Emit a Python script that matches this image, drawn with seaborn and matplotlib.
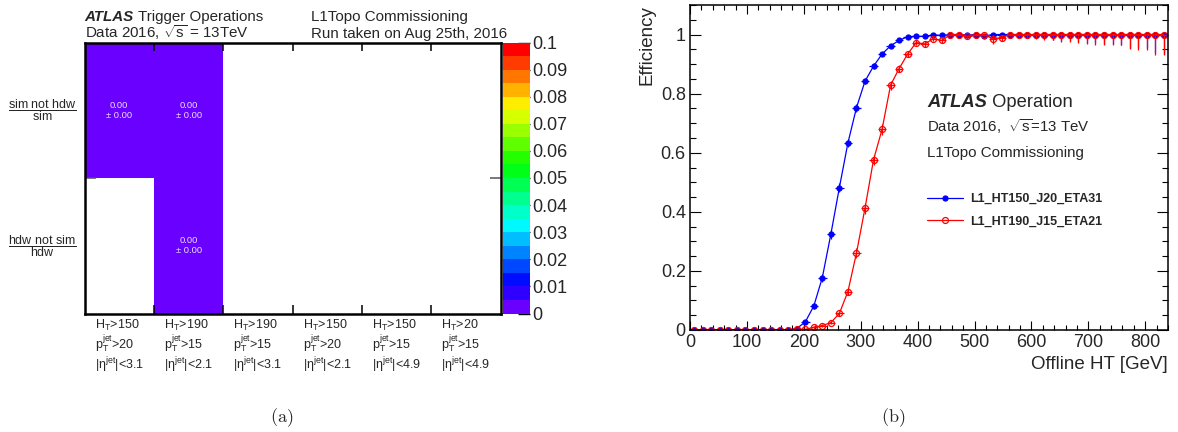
import numpy as np
import pandas as pd
import matplotlib
matplotlib.use("Agg")
import matplotlib.pyplot as plt
import seaborn as sns
from matplotlib.colors import ListedColormap, hsv_to_rgb
from matplotlib.ticker import MultipleLocator, FuncFormatter

# ---------------- data: panel (a) ----------------
row_labels = [r"$\dfrac{\mathrm{sim\ not\ hdw}}{\mathrm{sim}}$",
              r"$\dfrac{\mathrm{hdw\ not\ sim}}{\mathrm{hdw}}$"]
col_labels = [
    "H$_\\mathregular{T}$>150\np$_\\mathregular{T}^\\mathregular{jet}$>20\n|η$^\\mathregular{jet}$|<3.1",
    "H$_\\mathregular{T}$>190\np$_\\mathregular{T}^\\mathregular{jet}$>15\n|η$^\\mathregular{jet}$|<2.1",
    "H$_\\mathregular{T}$>190\np$_\\mathregular{T}^\\mathregular{jet}$>15\n|η$^\\mathregular{jet}$|<3.1",
    "H$_\\mathregular{T}$>150\np$_\\mathregular{T}^\\mathregular{jet}$>20\n|η$^\\mathregular{jet}$|<2.1",
    "H$_\\mathregular{T}$>150\np$_\\mathregular{T}^\\mathregular{jet}$>15\n|η$^\\mathregular{jet}$|<4.9",
    "H$_\\mathregular{T}$>20\np$_\\mathregular{T}^\\mathregular{jet}$>15\n|η$^\\mathregular{jet}$|<4.9",
]
nan = np.nan
frac_sim_not_hdw = [0.00, 0.00, nan, nan, nan, nan]
frac_hdw_not_sim = [nan, 0.00, nan, nan, nan, nan]
err_sim_not_hdw = [0.00, 0.00, nan, nan, nan, nan]
err_hdw_not_sim = [nan, 0.00, nan, nan, nan, nan]
cbar_ticks = [0, 0.01, 0.02, 0.03, 0.04, 0.05, 0.06, 0.07, 0.08, 0.09, 0.1]
cbar_ticklabels = ["0", "0.01", "0.02", "0.03", "0.04", "0.05", "0.06",
                   "0.07", "0.08", "0.09", "0.1"]

# ---------------- data: panel (b) ----------------
ht_bins = [7.5, 22.5, 37.5, 52.5, 67.5, 82.5, 97.5, 112.5, 127.5, 142.5,
           157.5, 172.5, 187.5, 202.5, 217.5, 232.5, 247.5, 262.5, 277.5, 292.5,
           307.5, 322.5, 337.5, 352.5, 367.5, 382.5, 397.5, 412.5, 427.5, 442.5,
           457.5, 472.5, 487.5, 502.5, 517.5, 532.5, 547.5, 562.5, 577.5, 592.5,
           607.5, 622.5, 637.5, 652.5, 667.5, 682.5, 697.5, 712.5, 727.5, 742.5,
           757.5, 772.5, 787.5, 802.5, 817.5, 832.5]
bin_half_width = 7.5
eff_ht150 = [0, 0, 0, 0, 0, 0, 0, 0, 0, 0,
             0, 0, 0.005, 0.027, 0.081, 0.177, 0.324, 0.482, 0.633, 0.752,
             0.842, 0.893, 0.934, 0.962, 0.980, 0.993, 0.994, 0.994, 0.999, 0.997,
             1.0, 1.0, 0.998, 1.0, 0.995, 1.0, 1.0, 1.0, 1.0, 1.0,
             1.0, 1.0, 1.0, 1.0, 1.0, 1.0, 1.0, 1.0, 1.0, 1.0,
             1.0, 1.0, 1.0, 1.0, 1.0, 1.0]
err_ht150 = [0, 0, 0, 0, 0, 0, 0, 0, 0, 0,
             0, 0.001, 0.003, 0.006, 0.010, 0.013, 0.015, 0.016, 0.015, 0.013,
             0.011, 0.010, 0.008, 0.007, 0.006, 0.004, 0.004, 0.004, 0.003, 0.004,
             0.003, 0.003, 0.004, 0.003, 0.005, 0.004, 0.004, 0.005, 0.007, 0.010,
             0.012, 0.015, 0.018, 0.021, 0.023, 0.025, 0.028, 0.030, 0.031, 0.033,
             0.034, 0.044, 0.046, 0.046, 0.062, 0.066]
eff_ht190 = [0, 0, 0, 0, 0, 0, 0, 0, 0, 0,
             0, 0.001, 0.003, 0.002, 0.009, 0.015, 0.025, 0.056, 0.130, 0.260,
             0.412, 0.576, 0.679, 0.829, 0.885, 0.934, 0.973, 0.968, 0.986, 0.980,
             1.0, 1.0, 0.994, 1.0, 1.0, 0.985, 0.990, 1.0, 1.0, 1.0,
             1.0, 1.0, 1.0, 1.0, 1.0, 1.0, 1.0, 1.0, 1.0, 1.0,
             1.0, 1.0, 1.0, 1.0, 1.0, 1.0]
err_ht190 = [0, 0, 0, 0, 0, 0, 0, 0, 0, 0,
             0, 0.001, 0.002, 0.002, 0.004, 0.005, 0.006, 0.008, 0.012, 0.016,
             0.018, 0.018, 0.018, 0.015, 0.013, 0.011, 0.009, 0.010, 0.008, 0.009,
             0.004, 0.004, 0.008, 0.004, 0.005, 0.017, 0.012, 0.006, 0.008, 0.011,
             0.014, 0.017, 0.020, 0.024, 0.026, 0.028, 0.031, 0.034, 0.034, 0.037,
             0.037, 0.049, 0.051, 0.051, 0.068, 0.068]

# ---------------- style ----------------
sns.set_theme(style="ticks")
plt.rcParams["font.family"] = ["Liberation Sans", "DejaVu Sans"]
plt.rcParams["mathtext.fontset"] = "custom"
plt.rcParams["mathtext.rm"] = "Liberation Sans"
plt.rcParams["mathtext.it"] = "Liberation Sans:italic"
plt.rcParams["mathtext.bf"] = "Liberation Sans:bold"
plt.rcParams["axes.edgecolor"] = "black"

W, H = 1178, 432
fig = plt.figure(figsize=(W / 100, H / 100), dpi=100)


def fx(px):
    return px / W


def fy(py):
    return 1 - py / H


# ---------------- panel (a): heatmap ----------------
hues = [265.0 * (19 - i) / 19 / 360.0 for i in range(20)]
cmap = ListedColormap([hsv_to_rgb((h, 1.0, 1.0)) for h in hues])

ax1_h_px = 313.5 - 42.5
ax1 = fig.add_axes([fx(84.6), fy(313.5), fx(500.7 - 84.6), ax1_h_px / H])
cax = fig.add_axes([fx(503.3), fy(313.5), fx(530 - 503.3), ax1_h_px / H])

df = pd.DataFrame([frac_sim_not_hdw, frac_hdw_not_sim], index=row_labels, columns=col_labels)
errs = np.array([err_sim_not_hdw, err_hdw_not_sim])
annot = np.array([["" if np.isnan(v) else f"{v:.2f}\n± {e:.2f}" for v, e in zip(rv, re)]
                  for rv, re in zip(df.values, errs)])

sns.heatmap(df, ax=ax1, cbar_ax=cax, cmap=cmap, vmin=0, vmax=0.1,
            annot=annot, fmt="", annot_kws=dict(fontsize=6.8, color="#e8dcff"),
            cbar_kws=dict(ticks=cbar_ticks))

ax1.set_axisbelow(False)
for sp in ax1.spines.values():
    sp.set_visible(True)
    sp.set_linewidth(1.8)
    sp.set_color("black")
    sp.set_zorder(5)

n_cols = len(col_labels)
ax1.set_xticks(np.arange(n_cols) + 0.5)
ax1.set_xticklabels(col_labels, rotation=0, fontsize=9, ha="center",
                    multialignment="left", linespacing=1.05)
ax1.tick_params(axis="x", which="major", length=0, pad=3)

# tick marks at the column boundaries (top and bottom, pointing inwards)
tick_frac = 8.5 / ax1_h_px
xt = ax1.get_xaxis_transform()
boundaries = np.arange(1, n_cols)
ax1.vlines(boundaries, 0, tick_frac, transform=xt, colors="black",
           linewidth=1.1, zorder=6, clip_on=False)
ax1.vlines(boundaries, 1 - tick_frac, 1, transform=xt, colors="black",
           linewidth=1.1, zorder=6, clip_on=False)

# row boundary tick, row labels
ax1.set_yticks([0.5, 1.5])
ax1.set_yticklabels(row_labels, rotation=0, fontsize=9, va="center")
ax1.tick_params(axis="y", which="major", length=0, pad=6)
ax1.set_yticks([1], minor=True)
ax1.tick_params(axis="y", which="minor", direction="in", left=True, right=True,
                length=8, width=1.1, color="#555555")
ax1.set_xlabel("")
ax1.set_ylabel("")

cbar = ax1.collections[0].colorbar
cbar.outline.set_visible(False)
cax.set_yticks(cbar_ticks)
cax.set_yticklabels(cbar_ticklabels)
cax.tick_params(axis="y", direction="in", length=8.4, width=1, color="black",
                labelsize=13, pad=1.5, right=True, left=False)

# header texts of panel (a)
t1 = fig.text(fx(84.6), fy(20.7), "ATLAS", fontsize=10.9, weight="bold",
              style="italic", va="baseline", ha="left")
fig.text(fx(84.6), fy(38.3), r"Data 2016, $\sqrt{\mathrm{s}}$ = 13TeV",
         fontsize=10.9, va="baseline", ha="left")
ax1.annotate(" Trigger Operations", xy=(1, 0), xycoords=t1, va="bottom",
             ha="left", fontsize=10.9, annotation_clip=False)
fig.text(fx(311.4), fy(20.7), "L1Topo Commissioning", fontsize=10.9,
         va="baseline", ha="left")
fig.text(fx(311.4), fy(38.3), "Run taken on Aug 25th, 2016", fontsize=10.9,
         va="baseline", ha="left")

# ---------------- panel (b): efficiency ----------------
ax2 = fig.add_axes([fx(690), fy(330), fx(1168 - 690), (330 - 5) / H])

for eff, err, col, mfc, lab in [
    (eff_ht150, err_ht150, "blue", "blue", "L1_HT150_J20_ETA31"),
    (eff_ht190, err_ht190, "red", "none", "L1_HT190_J15_ETA21"),
]:
    eff_a = np.array(eff)
    err_a = np.array(err)
    lo = err_a
    hi = np.minimum(err_a, 1.0 - eff_a)
    ax2.errorbar(ht_bins, eff_a, yerr=[lo, hi], xerr=bin_half_width, fmt="none",
                 ecolor=col, elinewidth=0.9, capsize=0)
    sns.lineplot(x=ht_bins, y=eff, ax=ax2, color=col, linewidth=0.9,
                 marker="o", markersize=4.3 if mfc == "none" else 3.6,
                 markerfacecolor=mfc, markeredgecolor=col, markeredgewidth=0.9,
                 label=lab, errorbar=None)

ax2.set_xlim(0, 840)
ax2.set_ylim(0, 1.1)
ax2.xaxis.set_major_locator(MultipleLocator(100))
ax2.xaxis.set_minor_locator(MultipleLocator(20))
ax2.yaxis.set_major_locator(MultipleLocator(0.2))
ax2.yaxis.set_minor_locator(MultipleLocator(0.05))
ax2.yaxis.set_major_formatter(FuncFormatter(lambda v, _: f"{v:g}"))
ax2.tick_params(axis="both", which="both", direction="in", top=True, right=True,
                bottom=True, left=True, width=0.8, color="black", labelsize=13)
ax2.tick_params(axis="y", which="major", length=8, pad=3)
ax2.tick_params(axis="y", which="minor", length=4.3)
ax2.tick_params(axis="x", which="major", length=6.8, pad=3)
ax2.tick_params(axis="x", which="minor", length=3.3)
for sp in ax2.spines.values():
    sp.set_linewidth(1.1)
    sp.set_color("black")
ax2.set_xlabel("Offline HT [GeV]", loc="right", fontsize=13.5, labelpad=3.5)
ax2.set_ylabel("Efficiency", loc="top", fontsize=13.5, labelpad=4)

leg = ax2.legend(loc="center left", bbox_to_anchor=((927 - 690) / 478, 1 - (210.5 - 5) / 325),
                 frameon=False, fontsize=9, handlelength=2.9, handletextpad=0.55,
                 labelspacing=0.85, borderpad=0, borderaxespad=0)
for txt in leg.get_texts():
    txt.set_fontweight("bold")

t2 = ax2.text((927 - 690) / 478, 1 - (106.7 - 5) / 325, "ATLAS", transform=ax2.transAxes,
              fontsize=13.2, weight="bold", style="italic", va="baseline", ha="left")
ax2.annotate(" Operation", xy=(1, 0), xycoords=t2, va="bottom", ha="left",
             fontsize=13.2)
ax2.text((927 - 690) / 478, 1 - (131.5 - 5) / 325, r"Data 2016,  $\sqrt{\mathrm{s}}$=13 TeV",
         transform=ax2.transAxes, fontsize=10.8, va="baseline", ha="left")
ax2.text((927 - 690) / 478, 1 - (156.5 - 5) / 325, "L1Topo Commissioning",
         transform=ax2.transAxes, fontsize=10.9, va="baseline", ha="left")

# captions
fig.text(fx(282), fy(418), r"$\mathrm{(a)}$", math_fontfamily="cm", fontsize=13,
         ha="center", va="center")
fig.text(fx(893), fy(418), r"$\mathrm{(b)}$", math_fontfamily="cm", fontsize=13,
         ha="center", va="center")

fig.savefig("out.png", dpi=100)
